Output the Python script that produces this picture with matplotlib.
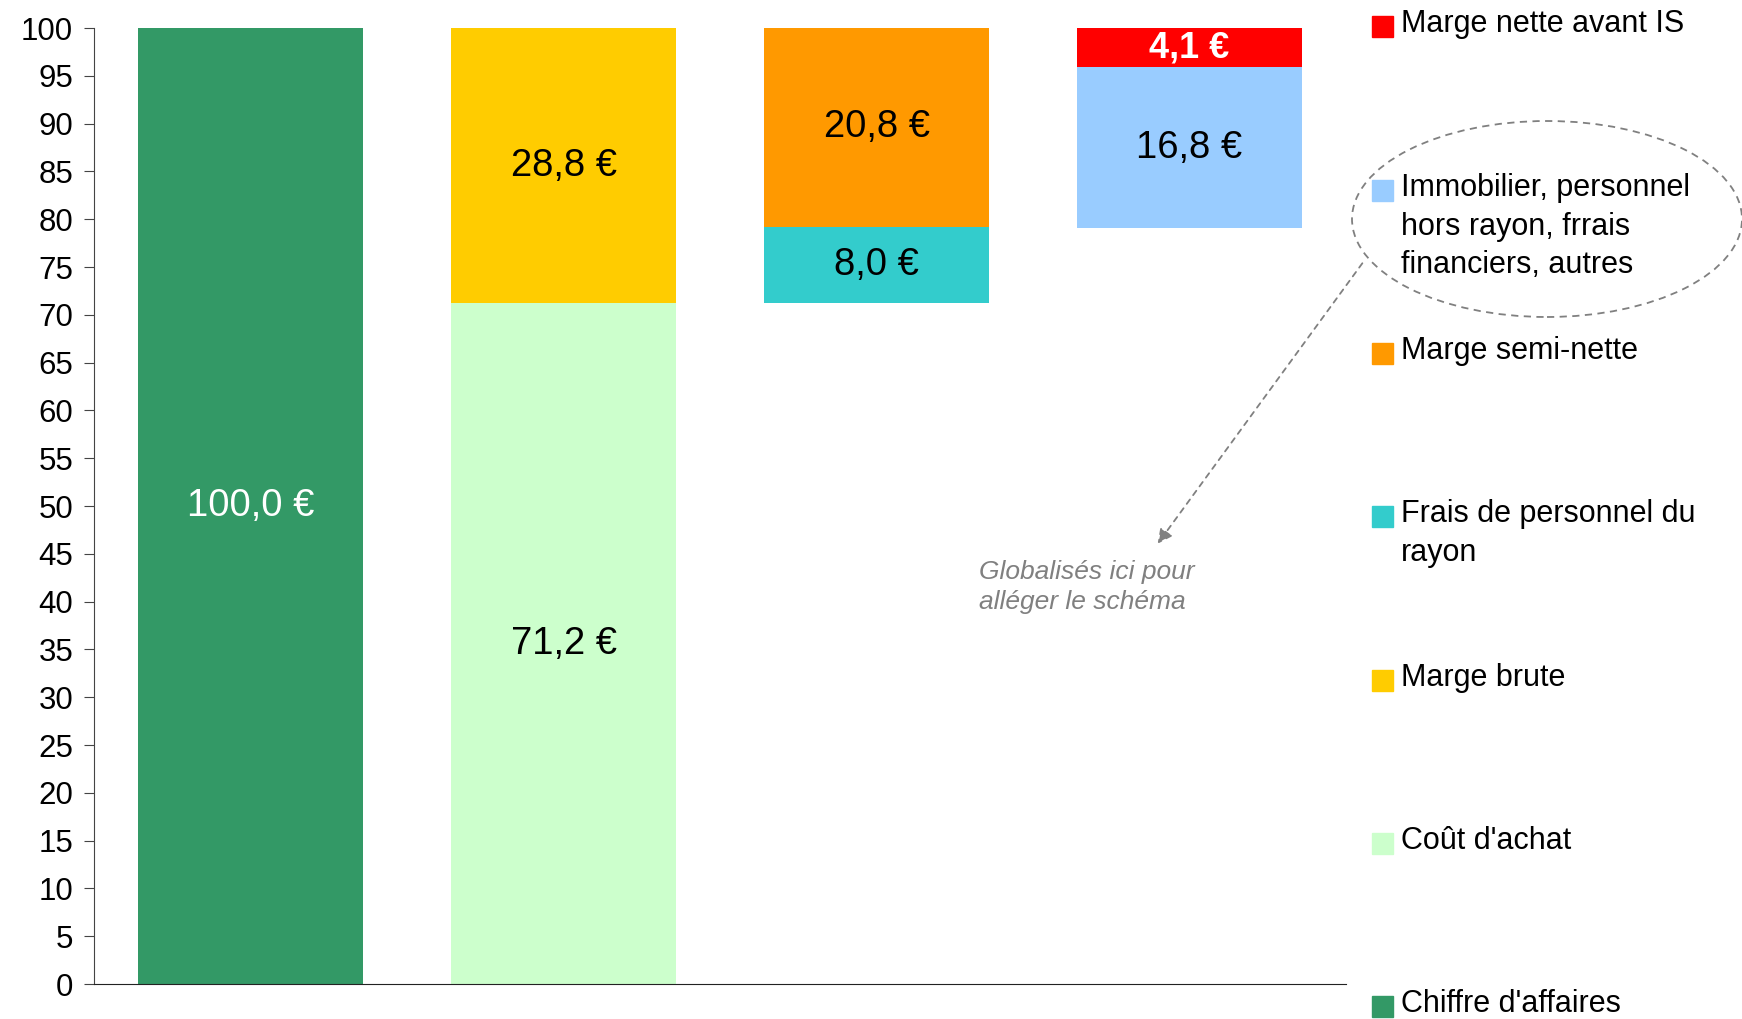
import matplotlib.pyplot as plt
from matplotlib.patches import Ellipse, Rectangle

plt.rcParams['font.family'] = ['Liberation Sans', 'DejaVu Sans']

# waterfall: one column per step, segments stacked from a base level
positions = [0, 1, 2, 3]
bases = [0, 0, 71.2, 79.1]

series_names = ["Chiffre d'affaires", "Coût d'achat", "Marge brute",
                "Frais de personnel du\nrayon", "Marge semi-nette",
                "Immobilier, personnel\nhors rayon, frrais\nfinanciers, autres",
                "Marge nette avant IS"]
series_colors = ["#339966", "#CCFFCC", "#FFCC00", "#33CCCC", "#FF9900",
                 "#99CCFF", "#FF0000"]
chiffre = [100.0, 0, 0, 0]
cout_achat = [0, 71.2, 0, 0]
marge_brute = [0, 28.8, 0, 0]
frais_rayon = [0, 0, 8.0, 0]
marge_semi = [0, 0, 20.8, 0]
immobilier = [0, 0, 0, 16.8]
marge_nette = [0, 0, 0, 4.1]
series = [chiffre, cout_achat, marge_brute, frais_rayon, marge_semi,
          immobilier, marge_nette]

label_colors = ["white", "black", "black", "black", "black", "black", "white"]
label_bold = [False, False, False, False, False, False, True]

fig = plt.figure(figsize=(17.42, 10.19), dpi=100)
ax = fig.add_axes([0.054, 0.0343, 0.7187, 0.9382])

bottom = list(bases)
for vals, col, lc, lb in zip(series, series_colors, label_colors, label_bold):
    bars = ax.bar(positions, vals, width=0.72, bottom=bottom, color=col)
    for x, v, b in zip(positions, vals, bottom):
        if v > 0:
            ax.text(x, b + v / 2, f"{v:.1f} €".replace(".", ","),
                    ha="center", va="center", color=lc,
                    fontsize=26 if lb else 27.5,
                    fontweight="bold" if lb else "normal")
    bottom = [b + v for b, v in zip(bottom, vals)]

ax.set_xlim(-0.5, 3.5)
ax.set_ylim(0, 100)
ax.set_yticks(range(0, 101, 5))
ax.tick_params(axis="y", labelsize=22.5, length=7, color="#444444", pad=8)
ax.set_xticks([])
ax.spines["top"].set_visible(False)
ax.spines["right"].set_visible(False)
ax.spines["left"].set_color("#444444")
ax.spines["bottom"].set_color("#222222")

# legend drawn by hand, bottom series at the bottom
H = 1019.0
W = 1742.0
leg_y = [1006, 843, 680, 516, 353, 190, 26]
for name, col, y in zip(series_names, series_colors, leg_y):
    fig.patches.append(Rectangle(((1372) / W, 1 - (y + 10.5) / H), 21 / W, 21 / H,
                                 transform=fig.transFigure, color=col))
    fig.text(1401 / W, 1 - (y - 17) / H, name, ha="left", va="top",
             fontsize=22, linespacing=1.38)

# dashed ellipse around the grouped costs
fig.patches.append(Ellipse((1547 / W, 1 - 219 / H), 390 / W, 196 / H,
                           transform=fig.transFigure, fill=False,
                           edgecolor="#808080", linestyle=(0, (4, 3)), lw=1.3))

# dashed arrow and note
fig.add_artist(plt.Annotation("", xy=(1156 / W, 1 - 546 / H), xycoords="figure fraction",
                              xytext=(1364 / W, 1 - 261 / H), textcoords="figure fraction",
                              arrowprops=dict(arrowstyle="-|>", color="#808080",
                                              linestyle=(0, (3, 3)), lw=1.3,
                                              mutation_scale=22)))
fig.text(979 / W, 1 - 587 / H, "Globalisés ici pour\nalléger le schéma",
         ha="left", va="center", fontsize=19, style="italic", color="#808080",
         linespacing=1.35)

fig.savefig("out.png", dpi=100)
